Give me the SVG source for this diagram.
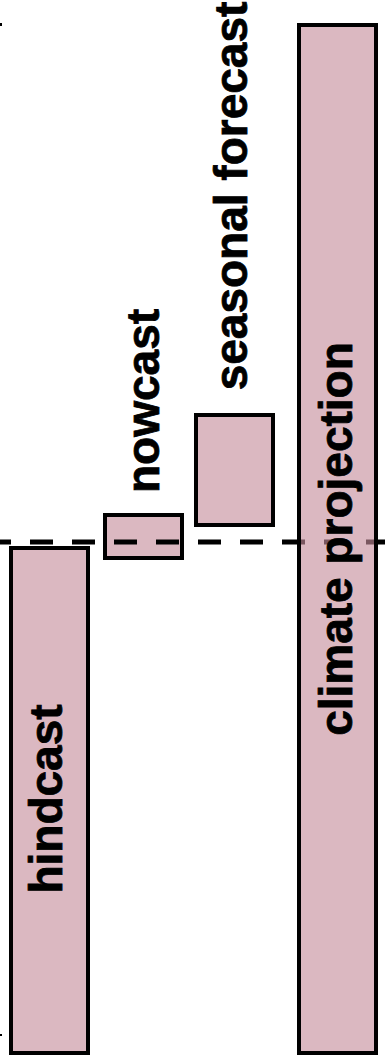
<svg xmlns="http://www.w3.org/2000/svg" width="385" height="1060" viewBox="0 0 385 1060">
  <style>
    .box { fill: #dbb8c1; stroke: #000; stroke-width: 4; }
    .boxt { fill: #c58c9b; fill-opacity: 0.62; stroke: #000; stroke-width: 4; }
    .lbl { font-family: "Liberation Sans", Arial, sans-serif; font-weight: bold; font-size: 46px; fill: #000; stroke: #000; stroke-width: 0.8; text-anchor: middle; }
    .dash { stroke: #000; stroke-width: 5; stroke-dasharray: 23 19; stroke-dashoffset: 12; fill: none; }
  </style>
  <rect x="0" y="0" width="385" height="1060" fill="#fff"/>
  <g id="marks">
    <rect x="0" y="23" width="2" height="3" fill="#000"/>
    <rect x="0" y="1034" width="2" height="2" fill="#000"/>
  </g>
  <g id="hindcast">
    <rect class="box" x="11" y="548" width="77" height="505"/>
    <text class="lbl" transform="translate(62,799) rotate(-90)">hindcast</text>
  </g>
  <g id="nowcast">
    <rect class="box" x="105" y="515" width="77" height="43"/>
    <text class="lbl" transform="translate(159,401) rotate(-90)">nowcast</text>
  </g>
  <g id="seasonal-forecast">
    <rect class="box" x="196" y="415" width="77" height="110"/>
    <text class="lbl" transform="translate(247,196) rotate(-90)">seasonal forecast</text>
  </g>
  <g id="connectors">
    <line class="dash" x1="0" y1="542" x2="385" y2="542"/>
  </g>
  <g id="climate-projection">
    <rect class="boxt" x="299" y="25" width="77" height="1028"/>
    <text class="lbl" transform="translate(352,539) rotate(-90)">climate projection</text>
  </g>
</svg>
